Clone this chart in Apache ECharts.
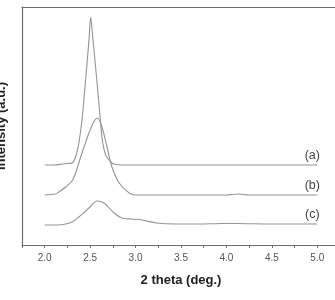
<!DOCTYPE html>
<html><head><meta charset="utf-8">
<script src="https://cdn.jsdelivr.net/npm/echarts@6/dist/echarts.min.js"></script>
<style>html,body{margin:0;padding:0;background:#fff}#c{width:335px;height:300px}</style>
</head><body><div id="c"></div>
<script>
// 2 theta (deg.) and intensity (a.u., arbitrary offset scale)
var thetaA = [2.0,2.1,2.2,2.25,2.3,2.34,2.376,2.41,2.45,2.487,2.506,2.524,2.56,2.6,2.634,2.67,2.71,2.727,2.76,2.85,3.0,3.5,4.0,4.5,5.0];
var intA   = [80,80,81,81.5,82,88,102,125,165,205,228,212,178,138,105,90,85,83,81,80,80,80,80,80,80];
var thetaB = [2.0,2.12,2.155,2.23,2.3,2.34,2.41,2.487,2.54,2.58,2.63,2.686,2.74,2.82,2.93,3.0,3.5,4.0,4.13,4.25,4.5,5.0];
var intB   = [50,51,53,58,64,72,92,112,123,127,118,98,78,62,52,50,50,50,51,50,50,50];
var thetaC = [2.0,2.15,2.23,2.3,2.376,2.45,2.487,2.576,2.653,2.764,2.85,2.95,3.07,3.23,3.45,3.7,3.96,4.1,4.48,5.0];
var intC   = [20,20,21,23,28,34,37,44,42,32,27,26,25,22,21,21,21.5,21.5,21,21];
var curveNames = ['(a)','(b)','(c)'];
var labelPos = [[4.945,89],[4.945,59],[4.945,30]];
var xTicks = {min:1.75, max:5.25, step:0.25};

function pairs(xs, ys){ return xs.map(function(x,i){ return [x, ys[i]]; }); }
var datasets = [pairs(thetaA,intA), pairs(thetaB,intB), pairs(thetaC,intC)];
var lineColor = '#949494';
var series = datasets.map(function(d, i){
  return {
    type:'line', data:d, showSymbol:false, smooth:0.3,
    lineStyle:{color:lineColor, width:1.1}, silent:true,
    markPoint:{symbol:'circle', symbolSize:0,
      label:{show:true, position:'inside', formatter:curveNames[i], color:'#444', fontSize:12.5, fontFamily:'Liberation Sans'},
      data:[{coord:labelPos[i]}]}
  };
});
var chart = echarts.init(document.getElementById('c'), null, {renderer:'canvas'});
chart.setOption({
  animation:false,
  grid:{left:22, right:-5, top:7, bottom:55, containLabel:false, outerBoundsMode:'none'},
  xAxis:[{
    type:'value', min:xTicks.min, max:xTicks.max, interval:xTicks.step,
    name:'2 theta (deg.)', nameLocation:'middle', nameGap:29,
    nameTextStyle:{fontSize:13, fontWeight:'bold', color:'#222', fontFamily:'Liberation Sans'},
    axisLine:{lineStyle:{color:'#707070', width:1.2}},
    axisTick:{length:3, lineStyle:{color:'#707070'}},
    axisLabel:{color:'#555', fontSize:10, margin:8, fontFamily:'Liberation Sans',
      formatter:function(v){ return Math.round(v*4)%2===0 ? v.toFixed(1) : ''; }},
    splitLine:{show:false}
  },{
    type:'value', position:'top', min:xTicks.min, max:xTicks.max,
    axisLine:{show:true, lineStyle:{color:'#707070', width:1.2}},
    axisTick:{show:false}, axisLabel:{show:false}, splitLine:{show:false}
  }],
  yAxis:{
    type:'value', min:0, max:238,
    name:'Intensity (a.u.)', nameLocation:'middle', nameGap:14,
    nameTextStyle:{fontSize:13, fontWeight:'bold', color:'#222', fontFamily:'Liberation Sans'},
    axisLine:{show:true, lineStyle:{color:'#707070', width:1.2}},
    axisTick:{show:false}, axisLabel:{show:false}, splitLine:{show:false}
  },
  series:series
});
</script></body></html>
